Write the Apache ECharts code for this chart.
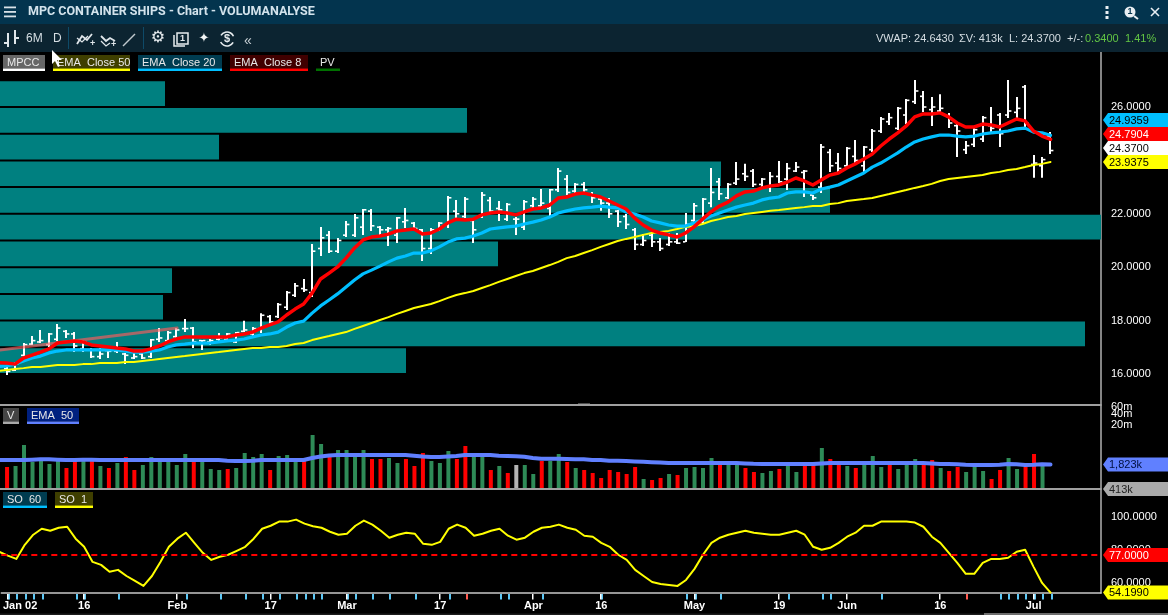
<!DOCTYPE html>
<html><head><meta charset="utf-8">
<style>html,body{margin:0;padding:0;background:#000}#c{width:1168px;height:615px}</style>
<script src="https://cdn.jsdelivr.net/npm/echarts@6/dist/echarts.min.js"></script></head>
<body><div id="c"></div>
<script>
const highs=[16.34,16.45,17.16,17.42,17.65,17.54,17.87,17.65,17.57,17.27,16.97,16.97,16.90,17.20,16.79,16.79,16.79,17.31,17.72,17.61,17.72,18.06,17.76,17.27,17.31,17.54,17.54,17.57,17.99,17.76,18.28,18.21,18.66,19.11,19.41,19.56,20.87,21.51,21.36,21.09,21.73,21.99,22.18,22.18,21.54,21.51,21.88,22.22,21.69,21.43,21.47,21.69,22.67,22.52,22.63,21.84,22.82,22.63,22.48,22.40,21.88,22.52,22.63,22.93,22.93,23.72,23.45,23.15,23.19,22.82,22.59,22.59,22.14,21.99,21.47,21.24,21.28,21.09,21.28,21.28,22.03,22.40,22.59,23.72,23.34,23.15,23.94,23.87,23.68,23.34,23.57,23.98,23.90,23.94,23.64,22.70,24.61,24.43,24.28,24.50,24.76,24.54,25.18,25.63,25.78,26.00,26.30,27.01,26.60,26.37,26.48,25.78,25.36,24.73,25.21,25.66,26.00,25.78,27.01,26.37,26.82,24.20,24.13,25.06];
const lows=[15.96,16.11,16.64,17.09,17.16,17.01,17.24,17.35,16.82,16.82,16.60,16.56,16.60,16.79,16.37,16.56,16.56,16.60,17.20,17.20,17.35,17.57,16.97,16.90,17.09,17.24,17.27,17.16,17.57,17.39,17.54,17.84,18.10,18.40,18.88,19.07,18.88,20.42,20.53,20.53,21.13,21.13,21.21,21.36,21.13,20.79,20.91,21.47,21.39,20.23,20.49,21.36,21.47,21.77,21.84,20.91,21.84,22.03,21.73,21.73,21.21,21.39,22.22,22.22,21.92,22.82,22.70,22.78,22.70,22.40,22.11,21.84,21.51,21.43,20.64,20.79,20.76,20.61,20.79,20.87,20.94,21.69,21.62,22.25,22.52,22.55,23.08,23.23,23.00,23.00,22.82,23.15,22.89,23.57,22.63,22.52,22.78,23.57,23.57,23.75,23.83,23.57,24.31,25.03,25.33,25.14,25.36,26.11,25.81,25.29,25.81,25.21,24.13,24.24,24.50,24.69,25.06,24.50,25.59,25.59,25.25,23.35,23.35,24.24];
const opens=[16.2,16.14,16.7,17.12,17.2,17.1,17.3,17.6,17.5,16.95,16.9,16.65,16.88,16.85,16.75,16.6,16.75,16.65,17.3,17.25,17.4,17.7,17.72,17.25,17.2,17.3,17.3,17.2,17.6,17.5,17.7,18.15,18.15,18.5,18.95,19.2,19.05,20.7,21.2,20.6,21.2,21.2,21.5,22.1,21.5,21.4,21.2,21.7,21.65,21.4,20.7,21.4,21.6,22.1,21.9,21.75,21.9,22.5,22.2,21.8,21.8,21.5,22.3,22.3,22.2,22.9,23.3,22.85,23.1,22.75,22.55,22.4,22.1,21.9,21.4,20.85,21.2,20.95,20.85,20.95,20.95,21.75,21.7,22.4,23.2,22.6,23.15,23.5,23.6,23.1,23.0,23.4,23.3,23.6,23.55,22.7,23.0,24.3,23.9,23.8,24.15,23.8,24.4,25.1,25.45,25.2,25.7,26.2,26.4,25.9,25.85,25.65,25.3,24.4,24.6,24.8,25.3,25.7,25.7,25.8,26.75,23.85,23.8,24.9];
const closes=[16.1,16.38,17.1,17.25,17.25,17.5,17.72,17.5,17.05,17.2,16.65,16.75,16.85,16.9,16.7,16.65,16.6,17.28,17.35,17.55,17.65,17.7,17.2,17.25,17.25,17.35,17.5,17.55,17.65,17.7,18.2,17.95,18.6,19.05,19.3,19.15,20.6,21.1,20.6,21.0,21.6,21.85,22.15,21.55,21.4,21.45,21.85,21.75,21.45,20.7,21.4,21.65,22.6,22.0,22.55,21.4,22.7,22.1,22.15,22.35,21.8,22.45,22.55,22.4,22.9,23.6,22.8,23.1,22.9,22.6,22.4,22.0,21.7,21.6,20.85,21.0,20.95,20.7,20.95,20.9,21.6,22.3,22.55,22.8,22.75,23.1,23.3,23.4,23.1,23.3,23.4,23.2,23.7,23.75,23.6,22.6,24.5,23.8,23.7,24.45,24.0,24.5,25.1,25.55,25.6,25.95,26.25,26.6,26.0,26.0,25.95,25.4,25.1,24.55,25.15,25.6,25.2,25.0,25.85,25.95,25.4,23.9,24.03,24.37];
const ema8=[16.41,16.37,16.60,16.71,16.82,16.94,17.16,17.20,17.24,17.20,17.09,17.05,17.01,16.97,16.94,16.86,16.86,16.94,17.05,17.20,17.31,17.39,17.39,17.39,17.39,17.39,17.39,17.46,17.50,17.57,17.72,17.84,17.95,18.21,18.43,18.62,19.03,19.56,19.78,20.01,20.34,20.72,21.02,21.13,21.17,21.24,21.36,21.39,21.43,21.24,21.28,21.43,21.66,21.80,21.77,21.80,21.96,22.03,22.07,22.03,21.96,22.07,22.18,22.22,22.33,22.59,22.63,22.74,22.78,22.70,22.63,22.48,22.33,22.18,21.84,21.58,21.39,21.28,21.21,21.13,21.28,21.51,21.80,22.07,22.29,22.44,22.67,22.82,22.85,22.97,23.04,23.08,23.19,23.34,23.23,23.08,23.27,23.45,23.53,23.72,23.87,24.05,24.24,24.54,24.80,25.03,25.29,25.63,25.74,25.74,25.78,25.63,25.40,25.25,25.25,25.36,25.33,25.25,25.40,25.55,25.48,25.10,24.91,24.79];
const ema20=[16.30,16.37,16.49,16.60,16.67,16.79,16.86,16.90,16.90,16.90,16.90,16.90,16.90,16.90,16.86,16.82,16.82,16.86,16.90,17.01,17.09,17.12,17.16,17.16,17.16,17.20,17.24,17.27,17.31,17.39,17.46,17.50,17.57,17.76,17.91,17.98,18.28,18.55,18.77,19.00,19.26,19.52,19.75,19.89,20.04,20.20,20.34,20.42,20.53,20.53,20.61,20.76,20.94,21.06,21.09,21.17,21.28,21.43,21.47,21.51,21.54,21.62,21.69,21.77,21.88,22.03,22.11,22.18,22.22,22.25,22.29,22.25,22.22,22.07,21.99,21.88,21.73,21.66,21.58,21.54,21.54,21.66,21.77,21.92,22.03,22.14,22.25,22.33,22.40,22.52,22.59,22.63,22.78,22.82,22.82,22.78,22.93,23.00,23.08,23.23,23.38,23.53,23.75,23.90,24.09,24.28,24.50,24.69,24.80,24.88,24.95,24.95,24.91,24.88,24.91,24.99,25.03,25.06,25.10,25.18,25.21,25.06,25.03,24.94];
const ema50=[16.15,16.19,16.22,16.26,16.26,16.30,16.34,16.34,16.34,16.37,16.37,16.41,16.41,16.41,16.45,16.45,16.49,16.52,16.56,16.60,16.64,16.67,16.71,16.75,16.79,16.82,16.86,16.90,16.94,16.97,16.97,17.01,17.01,17.05,17.12,17.16,17.27,17.35,17.42,17.50,17.57,17.69,17.80,17.91,18.02,18.13,18.25,18.36,18.47,18.55,18.62,18.73,18.85,18.96,19.03,19.11,19.22,19.33,19.45,19.56,19.67,19.78,19.86,19.97,20.08,20.20,20.34,20.42,20.53,20.64,20.76,20.87,20.98,21.06,21.13,21.21,21.28,21.32,21.36,21.43,21.51,21.54,21.62,21.73,21.80,21.88,21.92,21.99,22.03,22.07,22.11,22.14,22.18,22.22,22.25,22.29,22.29,22.37,22.40,22.48,22.52,22.55,22.59,22.67,22.74,22.82,22.89,22.97,23.04,23.12,23.23,23.30,23.34,23.38,23.42,23.45,23.53,23.57,23.64,23.68,23.75,23.83,23.87,23.94];
const priorEma={e8:16.42,e20:16.28,e50:16.11,vol:2396000,so:78.8};
const trendPrices=[16.90,17.72];
const trendIdx=[-0.77,20.1];
const pvLow=[16,17,18,19,20,21,22,23,24,25,26];
const pvVolume=[406,1085,163,172,498,1101,830,721,219,467,165];
const volK=[1567,1665,5948,2122,2255,1880,2255,1475,2255,2255,2255,1665,1475,1997,2873,1307,1769,2873,2255,2255,1769,3447,2255,2255,1388,1307,1388,1475,3662,2873,3447,1307,3053,3244,2396,2396,10905,6319,3447,4392,4392,3662,4392,2545,2545,2705,1997,2545,1665,3662,2255,1997,4134,2545,5598,2873,2873,1307,1665,1089,1769,1769,1025,2255,2255,3447,2122,1475,1307,1089,805,1307,1157,1025,1567,757,713,805,1025,965,1475,1567,1475,2705,1997,1997,1997,1475,1157,1089,1230,1388,1769,1157,1769,1769,4959,2545,1997,1665,1475,1880,3053,1567,1769,1388,1880,2545,1769,2396,1475,1230,1567,1157,1567,1230,757,1307,2705,1388,1567,3447,1665,413];
const volDir=["r","g","g","g","g","g","g","r","r","g","r","g","r","g","r","r","g","g","g","g","g","g","r","g","g","g","r","g","g","g","g","r","g","g","g","r","g","g","r","g","g","g","g","r","r","g","g","r","r","r","g","g","g","r","r","g","g","r","g","r","n","g","g","r","g","g","r","g","r","r","r","r","r","r","r","g","r","r","g","r","g","g","g","g","r","g","g","r","r","g","g","r","g","g","r","r","g","r","r","g","r","g","g","g","r","g","g","g","r","r","g","r","r","g","g","g","r","r","g","g","r","r","g","g"];
const volEmaK=[2396,2396,2396,2450,2500,2500,2450,2396,2396,2450,2450,2396,2396,2396,2396,2396,2396,2396,2396,2396,2396,2396,2396,2396,2396,2396,2300,2255,2255,2300,2396,2396,2396,2396,2396,2396,2705,2950,3150,3244,3244,3244,3244,3244,3244,3244,3244,3244,3100,2950,2873,2873,2950,3050,3244,3244,3244,3244,3100,3050,3000,2900,2705,2600,2600,2600,2545,2500,2500,2396,2396,2300,2300,2255,2200,2150,2100,2050,2000,1997,1997,1997,1997,1997,1997,1997,1997,1950,1900,1880,1880,1880,1880,1880,1880,1880,1950,1997,1997,1997,1997,1997,1997,1997,1997,1997,1997,1997,1997,1950,1880,1880,1850,1800,1780,1770,1770,1800,1880,1850,1780,1800,1850,1823];
const so=[76.5,74.5,83,89.1,92.7,91.5,93.3,93.9,86.7,81.8,72.7,70.9,66.7,67.9,64.2,61.2,58.2,64.2,72.7,81.8,86.7,90.3,84.2,78.2,73.9,75.8,77,79.4,81.8,86.7,92.7,94.5,97,97,98.2,95.8,94.2,93.3,90.9,89.1,89.7,94.5,97.6,95.2,91.5,87.3,89.1,90.3,89.7,83.6,83,84.8,92.7,95.2,93.3,88.5,89.7,91.5,92.7,88.5,86.1,87.3,90.9,93.3,93.9,95.2,93.3,92.1,88.5,87.9,84.2,81.8,77,73.9,67.9,64.2,60.6,59.4,58.8,58.2,61.8,68.5,77,84.2,87.3,89.1,90.3,91.5,90.3,89.7,89.1,89.1,90.3,91.5,89.1,81.8,80,81.2,84.2,87.9,90.3,94.5,94.5,97,97,97,97,96.4,93.9,87.9,84.2,78.2,72.1,65.5,65.5,72.1,74.5,74.5,75.2,78.8,80,69.7,60,54.199];
const soLevel=77;
const dateLabels=["Jan 02","16","Feb","17","Mar","17","Apr","16","May","19","Jun","16","Jul"];
const dateLabelIdx=[1.45,9,20,31,40,51,62,70,81,91,99,110,121];
const dateTickIdx=[0,9,20,31,40,51,62,70,81,91,99,110,121];
const blueTickIdx=[0,1,2,3,4,8,9,13,21,25,28,30,32,34,35,36,37,40,41,43,45,48,52,58,59,63,70,80,81,84,92,96,97,103,117,118,119,120,121,122,123];
const redTickIdx=[54,113];
const priceTicks=[16,18,20,22,24,26];
const volTicks=[20e6,40e6];
const volTopTicks=[60e6];
const soTicks=[60,80,100];
const tags=[["24.9359",120,"#00bfff","#000"],["24.7904",134,"#ff0000","#fff"],["24.3700",148,"#ffffff","#000"],["23.9375",162,"#ffff00","#000"],["1,823k",464.5,"#6080ff","#001040"],["413k",489,"#aaaaaa","#222"],["77.0000",555,"#ff0000","#fff"],["54.1990",592.5,"#ffff00","#000"]];
const chips=[["MPCC",3,55,42,"#666666","#ffffff"],["EMA  Close 50",53,55,77,"#3f3f00","#ffff00"],["EMA  Close 20",138,55,84,"#003c50","#00bfff"],["EMA  Close 8",230,55,78,"#400000","#ff0000"],["PV",316,55,24,"#000000","#007000"],["V",3,408,16,"#444444","#aaaaaa"],["EMA  50",27,408,52,"#00207f","#6080ff"],["SO  60",3,492,44,"#003c50","#00bfff"],["SO  1",55,492,38,"#3f3f00","#ffff00"]];
const stats=[["VWAP: 24.6430",876,"#d5dde2"],["ΣV: 413k",959,"#d5dde2"],["L: 24.3700",1009,"#d5dde2"],["+/-:",1067,"#d5dde2"],["0.3400",1085,"#62c544"],["1.41%",1125,"#62c544"]];
const UI='"Liberation Sans",Arial,sans-serif';

const idx=highs.map((_,i)=>i);
const XMIN=-0.77,XMAX=128.95;
const withPrior=(p,arr)=>[[-1,p]].concat(arr.map((v,i)=>[i,v]));
const lineS=(name,data,color,w,xi,yi,z)=>({name,type:'line',xAxisIndex:xi,yAxisIndex:yi,data,showSymbol:false,symbol:'none',smooth:false,silent:true,animation:false,z,lineStyle:{color,width:w,cap:'round',join:'round'}});
const volColor={g:'#2e8b57',r:'#ff0000',n:'#b4b4b4'};

const gfx=[];
const rect=(x,y,w,h,fill,z=10)=>gfx.push({type:'rect',shape:{x,y,width:w,height:h},style:{fill},z,silent:true});
const text=(s,x,y,fill,font,z=11,align='left')=>gfx.push({type:'text',x,y,style:{text:s,fill,font,textAlign:align,textVerticalAlign:'middle'},z,silent:true});
const poly=(pts,stroke,w,z=11,fill)=>gfx.push({type:fill?'polygon':'polyline',shape:{points:pts},style:fill?{fill}:{stroke,lineWidth:w,fill:null},z,silent:true});
// header bands
rect(0,0,1168,24,'#03344e');rect(0,24,1168,28,'#0c2431');
text('MPC CONTAINER SHIPS - Chart - VOLUMANALYSE',28,12,'#d3e3ec','bold 12.5px Roboto');
[6.5,11,15.5].forEach(y=>rect(4,y,12,1.8,'#d8e2e8',11));
// title bar icons
[7,12,17].forEach(y=>rect(1105.5,y-1,3,3,'#e8eef2',11));
gfx.push({type:'circle',shape:{cx:1130,cy:12,r:5.5},style:{fill:'#e8eef2'},z:11,silent:true});
text('1',1130,12,'#03344e','bold 9px '+UI,12,'center');
poly([[1134,16],[1138,19]],'#e8eef2',2);
poly([[1151,8],[1159,16]],'#e8eef2',1.6);poly([[1159,8],[1151,16]],'#e8eef2',1.6);
// toolbar
poly([[8,33],[8,47]],'#e0e6ea',2);poly([[4,43],[8,43]],'#e0e6ea',2);poly([[15,30],[15,44]],'#e0e6ea',2);poly([[15,38],[19,38]],'#e0e6ea',2);
text('6M',26,39,'#d5dde2','12px '+UI);text('D',53,39,'#d5dde2','12px '+UI);
rect(68,27,1,22,'#0e4a68');rect(143,27,1,22,'#0e4a68');
poly([[77,44],[82,36],[87,40],[92,34]],'#dfe5e9',1.8);poly([[77,38],[82,42],[88,36]],'#dfe5e9',1.3);text('+',90,44,'#dfe5e9','bold 9px '+UI);
poly([[101,36],[106,41],[110,38],[115,41]],'#dfe5e9',1.8);poly([[101,41],[106,46],[110,43]],'#dfe5e9',1.3);text('+',111,45,'#dfe5e9','bold 9px '+UI);
poly([[123,46],[135,34]],'#bfc8cd',1.5);
text('⚙',158,38,'#e6ebee','16px "DejaVu Sans"',11,'center');
gfx.push({type:'rect',shape:{x:177,y:33,width:11,height:11},style:{fill:null,stroke:'#e6ebee',lineWidth:1.5},z:11,silent:true});
poly([[174,35],[174,46],[185,46]],'#e6ebee',1.5);text('1',182.5,38.5,'#e6ebee','bold 9px '+UI,11,'center');
text('✦',204,39,'#f2f5f6','13px "DejaVu Sans"',11,'center');
gfx.push({type:'arc',shape:{cx:227,cy:39,r:7,startAngle:-2.6,endAngle:-0.4},style:{stroke:'#e6ebee',lineWidth:1.6,fill:null},z:11,silent:true});
gfx.push({type:'arc',shape:{cx:227,cy:39,r:7,startAngle:0.5,endAngle:2.7},style:{stroke:'#e6ebee',lineWidth:1.6,fill:null},z:11,silent:true});
text('$',227,39,'#e6ebee','bold 11px '+UI,11,'center');
text('«',248,41,'#c8d0d5','14px '+UI,11,'center');
stats.forEach(s=>text(s[0],s[1],39,s[2],'11px '+UI));
// chips
chips.forEach(c=>{rect(c[1],c[2],c[3],13.5,c[4]);rect(c[1],c[2]+13.5,c[3],2.5,c[5]);text(c[0],c[1]+4,c[2]+8,'#e8e8e8','11px '+UI);});
// panel separators
rect(0,404,1101,2,'#a0a0a0',6);rect(0,488,1101,2,'#a0a0a0',6);
[0,1,2,3,4,5].forEach(k=>rect(578.5+k*2,403,1,1,'#999',7));
// tags
tags.forEach(t=>{const y=t[1];poly([[1103,y],[1108,y-7],[1168,y-7],[1168,y+7],[1108,y+7]],null,0,12,t[2]);text(t[0],1109,y+.5,t[3],'11px '+UI,13);});
// mouse cursor
poly([[52,50],[52,64],[55,61],[58,67],[60,66],[57,60],[62,60]],null,0,20,'#ffffff');
// scrollbar remnant
rect(984,613,184,2,'#6d6d6d',5);rect(0,613.5,984,1.5,'#1b1b1b',5);

const renderOhlc=(p,api)=>{
 const i=api.value(0),o=api.coord([i,api.value(1)]),c=api.coord([i,api.value(2)]),l=api.coord([i,api.value(3)]),h=api.coord([i,api.value(4)]);
 const x=Math.round(l[0]);
 return {type:'group',children:[
  {type:'rect',shape:{x:x-1,y:h[1],width:2,height:l[1]-h[1]},style:{fill:'#fff'}},
  {type:'rect',shape:{x:x-3,y:o[1]-.8,width:2.4,height:1.6},style:{fill:'#fff'}},
  {type:'rect',shape:{x:x+1,y:c[1]-.8,width:2.4,height:1.6},style:{fill:'#fff'}}]};
};
const renderPv=(p,api)=>{
 const lo=api.coord([0,api.value(0)]),hi=api.coord([api.value(2),api.value(1)]);
 return {type:'rect',shape:{x:lo[0],y:hi[1]+1,width:hi[0]-lo[0],height:lo[1]-hi[1]-2},style:{fill:'#008080'}};
};
const tickColor={w:'#ffffff',b:'#5ec8f5',r:'#ff5a50'};
const renderTick=(p,api)=>{
 const c=api.coord([api.value(0),54]);const k=api.value(1);
 const colors=[tickColor.b,tickColor.r,tickColor.w];
 return {type:'rect',shape:{x:Math.round(c[0])-(k===2?1:0),y:c[1]+1,width:k===2?1.5:2,height:5.5},style:{fill:colors[k]}};
};
const tickData=blueTickIdx.map(i=>[i,0]).concat(redTickIdx.map(i=>[i,1]),dateTickIdx.map(i=>[i,2]));
const xBase=gi=>({type:'value',gridIndex:gi,min:XMIN,max:XMAX,show:false});
const yBase=(gi,o)=>Object.assign({gridIndex:gi,position:'right',splitLine:{show:false},axisTick:{show:false},axisLine:{show:true,onZero:false,lineStyle:{color:'#b0b0b0',width:1.5}},scale:false},o);
const lblStyle={color:'#fff',fontFamily:UI,fontSize:11,margin:10,hideOverlap:false,showMinLabel:true,showMaxLabel:true,padding:[4,0,0,0]};
const volFmt=v=>Math.round(v/1e6)+'m';

const option={backgroundColor:'#000',animation:false,
 grid:[{left:0,top:52,width:1101,height:353},{left:0,top:405,width:1101,height:84},{left:0,top:489,width:1101,height:104}],
 xAxis:[xBase(0),xBase(1),
  {type:'value',gridIndex:2,min:XMIN,max:XMAX,position:'bottom',splitLine:{show:false},axisTick:{show:false},
   axisLine:{show:true,onZero:false,lineStyle:{color:'#c8c8c8',width:1.5}},
   axisLabel:{customValues:dateLabelIdx,color:'#fff',fontFamily:UI,fontSize:11,fontWeight:'bold',margin:7,hideOverlap:false,
    showMinLabel:true,showMaxLabel:true,formatter:v=>dateLabels[dateLabelIdx.indexOf(v)]||''}},
  {type:'value',gridIndex:0,min:0,max:1101,show:false}],
 yAxis:[
  yBase(0,{type:'value',min:14.839,max:28.06,axisLabel:Object.assign({},lblStyle,{customValues:priceTicks,formatter:v=>v.toFixed(4)})}),
  yBase(1,{type:'log',min:413000,max:67200000,logBase:10,axisLabel:Object.assign({},lblStyle,{customValues:volTicks,formatter:volFmt})}),
  yBase(2,{type:'value',min:53.94,max:116.67,axisLabel:Object.assign({},lblStyle,{customValues:soTicks,formatter:v=>v.toFixed(4)})}),
  yBase(1,{type:'log',min:413000,max:67200000,logBase:10,axisLine:{show:false,onZero:false},axisLabel:Object.assign({},lblStyle,{customValues:volTopTicks,formatter:volFmt})})],
 graphic:{elements:gfx},
 series:[
  {type:'custom',name:'PV',xAxisIndex:3,yAxisIndex:0,z:1,silent:true,renderItem:renderPv,encode:{x:2,y:[0,1]},data:pvLow.map((l,i)=>[l,l+1,pvVolume[i]])},
  {type:'custom',name:'MPCC',xAxisIndex:0,yAxisIndex:0,z:2,silent:true,renderItem:renderOhlc,encode:{x:0,y:[1,2,3,4]},data:idx.map(i=>[i,opens[i],closes[i],lows[i],highs[i]])},
  lineS('Trend',trendIdx.map((x,i)=>[x,trendPrices[i]]),'rgba(255,90,90,0.65)',3,0,0,3),
  lineS('EMA Close 50',withPrior(priorEma.e50,ema50),'#ffff00',2,0,0,4),
  lineS('EMA Close 20',withPrior(priorEma.e20,ema20),'#00bfff',3.2,0,0,5),
  lineS('EMA Close 8',withPrior(priorEma.e8,ema8),'#ff0000',3.5,0,0,6),
  {type:'bar',name:'V',xAxisIndex:1,yAxisIndex:1,barWidth:4,silent:true,z:2,data:idx.map(i=>({value:[i+.06,volK[i]*1000],itemStyle:{color:volColor[volDir[i]]}}))},
  lineS('EMA 50',withPrior(priorEma.vol,volEmaK.map(v=>v*1000)),'#6080ff',4,1,1,4),
  Object.assign(lineS('SO 1',withPrior(priorEma.so,so),'#ffff00',2,2,2,4),{markLine:{silent:true,symbol:'none',label:{show:false},lineStyle:{color:'#ff0000',type:[6,4],width:2},data:[{yAxis:soLevel}]}}),
  {type:'custom',name:'Marks',xAxisIndex:2,yAxisIndex:2,z:5,silent:true,clip:false,renderItem:renderTick,encode:{x:0},data:tickData}
 ]};
const chart=echarts.init(document.getElementById('c'),null,{renderer:'canvas'});
chart.setOption(option);
</script></body></html>
